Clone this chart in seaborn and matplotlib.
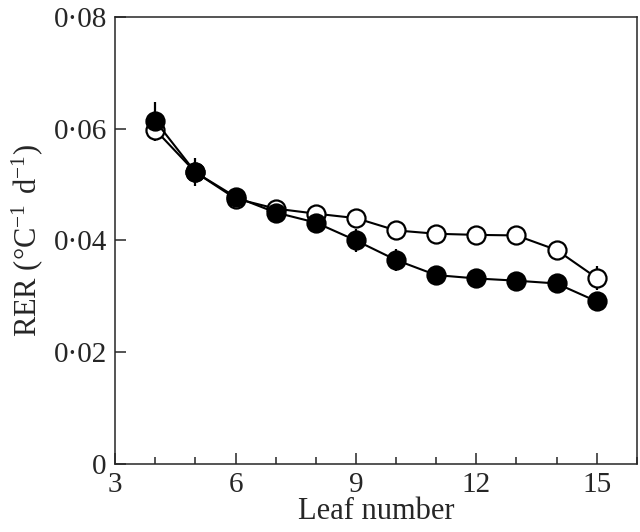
import numpy as np
import pandas as pd
import matplotlib
matplotlib.use("Agg")
import matplotlib.pyplot as plt
import seaborn as sns
from matplotlib.ticker import MultipleLocator, FuncFormatter

# data
leaf = [4, 5, 6, 7, 8, 9, 10, 11, 12, 13, 14, 15]
rer_open = [0.0598, 0.0522, 0.0475, 0.0457, 0.0448, 0.0440, 0.0418, 0.0412, 0.0410, 0.0409, 0.0383, 0.0333]
err_open = [0.0020, 0.0012, 0.0008, 0.0008, 0.0006, 0.0006, 0.0006, 0.0006, 0.0006, 0.0006, 0.0008, 0.0021]
rer_filled = [0.0614, 0.0522, 0.0478, 0.0450, 0.0432, 0.0400, 0.0365, 0.0338, 0.0332, 0.0328, 0.0323, 0.0291]
err_filled = [0.0034, 0.0025, 0.0010, 0.0010, 0.0008, 0.0020, 0.0020, 0.0008, 0.0006, 0.0006, 0.0006, 0.0008]

sns.set_style("ticks")
plt.rcParams["font.family"] = ["Liberation Serif", "DejaVu Serif"]
plt.rcParams["mathtext.fontset"] = "custom"
plt.rcParams["mathtext.rm"] = "Liberation Serif"

df_open = pd.DataFrame({"leaf": leaf, "rer": rer_open, "err": err_open})
df_filled = pd.DataFrame({"leaf": leaf, "rer": rer_filled, "err": err_filled})

fig = plt.figure(figsize=(6.4, 5.32), dpi=100)
ax = fig.add_axes([0.18, 0.128, 0.815, 0.84])

for d, face in [(df_open, "white"), (df_filled, "black")]:
    ax.errorbar(d["leaf"], d["rer"], yerr=d["err"], fmt="none",
                ecolor="black", elinewidth=1.6, capsize=0, zorder=2)
    sns.lineplot(data=d, x="leaf", y="rer", ax=ax, color="black", linewidth=1.5,
                 marker="o", markersize=13, markerfacecolor=face,
                 markeredgecolor="black", markeredgewidth=1.6, zorder=3)

ax.set_xlim(3, 16)
ax.set_ylim(0, 0.08)
ax.xaxis.set_major_locator(MultipleLocator(3))
ax.xaxis.set_minor_locator(MultipleLocator(1))
ax.yaxis.set_major_locator(MultipleLocator(0.02))
ax.yaxis.set_major_formatter(FuncFormatter(
    lambda v, p: "0" if abs(v) < 1e-9 else f"{v:.2f}".replace(".", "\u00b7")))

ax.tick_params(which="major", direction="in", length=8, width=1.1,
               labelsize=21)
ax.tick_params(axis="x", which="major", pad=6)
ax.tick_params(axis="y", which="major", pad=6)
ax.tick_params(which="minor", direction="in", length=5, width=1.1)
ax.tick_params(axis="y", which="minor", left=False)
for s in ax.spines.values():
    s.set_visible(True)
    s.set_linewidth(1.1)

ax.set_xlabel("Leaf number", fontsize=22, labelpad=-1)
ax.set_ylabel(r"RER ($\mathregular{°C^{-1}\ d^{-1}}$)", fontsize=22, labelpad=6)

fig.savefig("out.png", dpi=100)
